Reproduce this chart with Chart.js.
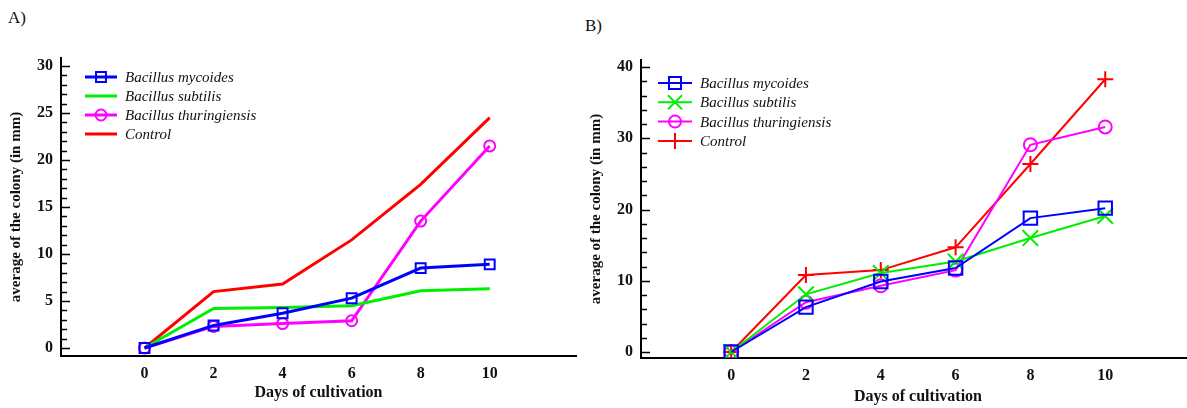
<!DOCTYPE html>
<html><head><meta charset="utf-8">
<script src="https://cdn.jsdelivr.net/npm/chart.js@4.4.0/dist/chart.umd.min.js"></script>
<style>
html,body{margin:0;padding:0;background:#fff;}
#wrap{position:relative;width:1187px;height:408px;overflow:hidden;background:#fff;}
canvas{position:absolute;top:0;}
.lbl{position:absolute;font-family:"Liberation Serif",serif;font-size:17px;color:#111;line-height:20px;}
</style></head><body>
<div id="wrap">
<div class="lbl" style="left:8px;top:8px">A)</div>
<div class="lbl" style="left:585px;top:16px">B)</div>
<canvas id="ca" width="585" height="408" style="left:0;width:585px;height:408px"></canvas>
<canvas id="cb" width="625" height="408" style="left:585px;width:625px;height:408px"></canvas>
</div>
<script>
// ---- data ----
const days = [0, 2, 4, 6, 8, 10];
const seriesNames = ['Bacillus mycoides', 'Bacillus subtilis', 'Bacillus thuringiensis', 'Control'];
const xTickValues = [0, 2, 4, 6, 8, 10];

// Panel A
const aMycoides      = [0, 2.4, 3.7, 5.3, 8.5, 8.9];
const aSubtilis      = [0, 4.2, 4.3, 4.5, 6.1, 6.3];
const aThuringiensis = [0, 2.3, 2.6, 2.9, 13.5, 21.5];
const aControl       = [0, 6.0, 6.8, 11.5, 17.4, 24.5];
const aYTickValues   = [0, 5, 10, 15, 20, 25, 30];

// Panel B
const bMycoides      = [0, 6.3, 9.9, 11.8, 18.8, 20.2];
const bSubtilis      = [0, 8.1, 11.1, 12.7, 16.0, 19.1];
const bThuringiensis = [0, 7.0, 9.3, 11.5, 29.1, 31.6];
const bControl       = [0, 10.8, 11.5, 14.7, 26.4, 38.3];
const bYTickValues   = [0, 10, 20, 30, 40];

const xTitle = 'Days of cultivation';
const yTitle = 'average of the colony (in mm)';

// ---- styles ----
const colors = ['#0000ff', '#00ee00', '#ff00ff', '#ff0000'];
const SERIF = '"Liberation Serif", "DejaVu Serif", serif';

function drawMarker(ctx, style, x, y, r, color, lw) {
  if (!style) return;
  ctx.save();
  ctx.strokeStyle = color; ctx.lineWidth = lw;
  ctx.beginPath();
  if (style === 'rect') {
    const s = r * Math.SQRT1_2;
    ctx.rect(x - s, y - s, 2 * s, 2 * s);
  } else if (style === 'circle') {
    ctx.arc(x, y, r, 0, Math.PI * 2);
  } else if (style === 'cross') {
    ctx.moveTo(x - r, y); ctx.lineTo(x + r, y);
    ctx.moveTo(x, y - r); ctx.lineTo(x, y + r);
  } else if (style === 'crossRot') {
    const s = r * Math.SQRT1_2;
    ctx.moveTo(x - s, y - s); ctx.lineTo(x + s, y + s);
    ctx.moveTo(x - s, y + s); ctx.lineTo(x + s, y - s);
  }
  ctx.stroke();
  ctx.restore();
}

const decorPlugin = {
  id: 'decor',
  afterDraw(chart, args, opts) {
    const ctx = chart.ctx;
    const ys = chart.scales.y;
    const left = chart.chartArea.left;
    ctx.save();
    ctx.strokeStyle = '#000';
    ctx.lineWidth = 1.5;
    const n = Math.round(opts.yTop / opts.minorStep);
    for (let i = 0; i <= n; i++) {
      const v = i * opts.minorStep;
      const p = Math.round(ys.getPixelForValue(v)) + 0.5;
      const major = Math.abs(v / opts.majorStep - Math.round(v / opts.majorStep)) < 1e-6;
      ctx.beginPath();
      ctx.moveTo(left, p);
      ctx.lineTo(left + (major ? 9 : 6), p);
      ctx.stroke();
    }
    ctx.restore();
    // legend
    const lg = opts.legend;
    chart.data.datasets.forEach((ds, i) => {
      const yy = lg.y0 + i * lg.dy;
      ctx.save();
      ctx.strokeStyle = ds.borderColor;
      ctx.lineWidth = ds.borderWidth;
      ctx.beginPath();
      ctx.moveTo(lg.x0, yy); ctx.lineTo(lg.x1, yy);
      ctx.stroke();
      ctx.restore();
      if (ds.pointStyle && ds.pointRadius > 0) {
        drawMarker(ctx, ds.pointStyle, (lg.x0 + lg.x1) / 2, yy, lg.markerR[i], ds.borderColor, ds.pointBorderWidth);
      }
      ctx.save();
      ctx.fillStyle = '#111';
      ctx.font = 'italic ' + lg.fontSize + 'px ' + SERIF;
      ctx.textBaseline = 'middle';
      ctx.textAlign = 'left';
      ctx.fillText(ds.label, lg.tx, yy + 1);
      ctx.restore();
    });
  }
};

function makeDataset(label, values, color, width, style, radius) {
  return {
    label: label,
    data: days.map((d, i) => ({ x: d, y: values[i] })),
    borderColor: color,
    backgroundColor: color,
    borderWidth: width,
    pointStyle: style || 'circle',
    pointRadius: style ? radius : 0,
    pointHoverRadius: style ? radius : 0,
    pointBorderColor: color,
    pointBackgroundColor: 'rgba(0,0,0,0)',
    pointBorderWidth: 2,
    tension: 0,
    fill: false
  };
}

function makeChart(canvasId, cfg) {
  return new Chart(document.getElementById(canvasId), {
    type: 'line',
    data: { datasets: cfg.datasets },
    options: {
      responsive: false,
      animation: false,
      devicePixelRatio: 1,
      events: [],
      layout: { padding: { left: 0, right: cfg.padRight, top: cfg.padTop, bottom: 0 } },
      plugins: {
        legend: { display: false },
        tooltip: { enabled: false },
        decor: cfg.decor
      },
      scales: {
        x: {
          type: 'linear',
          min: cfg.xMin, max: cfg.xMax,
          afterBuildTicks: s => { s.ticks = xTickValues.map(v => ({ value: v })); },
          afterFit: s => { s.height = cfg.xAxisH; },
          grid: { display: false, drawTicks: false },
          border: { display: true, color: '#000', width: 2 },
          ticks: {
            autoSkip: false, maxRotation: 0, padding: 8, color: '#111',
            font: { family: SERIF, size: 16, weight: 'bold' },
            callback: v => String(v)
          },
          title: {
            display: true, text: xTitle, color: '#111',
            font: { family: SERIF, size: 16, weight: 'bold' },
            padding: { top: 0, bottom: cfg.xTitlePad }
          }
        },
        y: {
          type: 'linear',
          min: cfg.yMin, max: cfg.yMax,
          afterBuildTicks: s => { s.ticks = cfg.yTicks.map(v => ({ value: v })); },
          afterFit: s => { s.width = cfg.yAxisW; },
          grid: { display: false, drawTicks: false },
          border: { display: true, color: '#000', width: 2 },
          ticks: {
            autoSkip: false, padding: 8, color: '#111',
            font: { family: SERIF, size: 16, weight: 'bold' },
            callback: v => String(v)
          },
          title: {
            display: true, text: yTitle, color: '#111',
            font: { family: SERIF, size: 15, weight: 'bold' },
            padding: { top: cfg.yTitlePad, bottom: 0 }
          }
        }
      }
    },
    plugins: [decorPlugin]
  });
}

// Panel A
makeChart('ca', {
  datasets: [
    makeDataset(seriesNames[0], aMycoides, colors[0], 3, 'rect', 7),
    makeDataset(seriesNames[1], aSubtilis, colors[1], 3, null, 0),
    makeDataset(seriesNames[2], aThuringiensis, colors[2], 3, 'circle', 5.5),
    makeDataset(seriesNames[3], aControl, colors[3], 3, null, 0)
  ],
  xMin: -2.42, xMax: 12.5,
  yMin: -0.85, yMax: 30.85,
  yTicks: aYTickValues,
  padRight: 5, padTop: 58,
  xAxisH: 52, yAxisW: 61,
  xTitlePad: 6, yTitlePad: 7,
  decor: {
    yTop: 30, minorStep: 1, majorStep: 5,
    legend: { x0: 85, x1: 117, tx: 125, y0: 77, dy: 19, fontSize: 15, markerR: [7, 0, 5.5, 0] }
  }
});

// Panel B (canvas extends past the right window edge, as the axis does in the original)
makeChart('cb', {
  datasets: [
    makeDataset(seriesNames[0], bMycoides, colors[0], 2, 'rect', 9.5),
    makeDataset(seriesNames[1], bSubtilis, colors[1], 2, 'crossRot', 11),
    makeDataset(seriesNames[2], bThuringiensis, colors[2], 2, 'circle', 6.5),
    makeDataset(seriesNames[3], bControl, colors[3], 2, 'cross', 8)
  ],
  xMin: -2.41, xMax: 12.4,
  yMin: -0.84, yMax: 41.0,
  yTicks: bYTickValues,
  padRight: 15, padTop: 60,
  xAxisH: 50, yAxisW: 56,
  xTitlePad: 2, yTitlePad: 2,
  decor: {
    yTop: 40, minorStep: 2, majorStep: 10,
    legend: { x0: 73, x1: 107, tx: 115, y0: 83, dy: 19.3, fontSize: 15, markerR: [8.5, 10, 6, 8] }
  }
});
</script>
</body></html>
